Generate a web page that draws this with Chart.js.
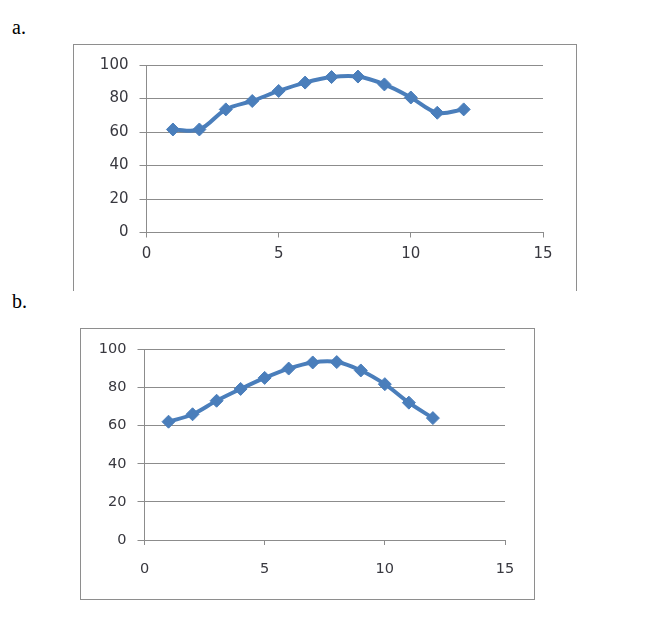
<!DOCTYPE html>
<html>
<head>
<meta charset="utf-8">
<script src="https://cdn.jsdelivr.net/npm/chart.js@4.4.1/dist/chart.umd.min.js"></script>
<style>
  body { margin: 0; background: #ffffff; width: 653px; height: 644px; position: relative; overflow: hidden; }
  .label { position: absolute; font-family: "Liberation Serif", "Times New Roman", serif; font-size: 20px; color: #000; }
  .frame { position: absolute; border: 1px solid #8e8e8e; box-sizing: border-box; }
  .box { position: absolute; }
</style>
</head>
<body>
<div class="label" style="left:12px; top:16px;">a.</div>
<div class="frame" style="left:73px; top:44px; width:504px; height:247px; border-bottom:none;"></div>
<div class="box" style="left:74px; top:45px; width:502px; height:245px;"><canvas id="chart_a"></canvas></div>

<div class="label" style="left:12px; top:290px;">b.</div>
<div class="frame" style="left:80px; top:328px; width:455px; height:272px;"></div>
<div class="box" style="left:81px; top:329px; width:453px; height:269px;"><canvas id="chart_b"></canvas></div>

<script>
// x positions shared by both charts
const xValues = [1, 2, 3, 4, 5, 6, 7, 8, 9, 10, 11, 12];
// chart a.
const seriesA = [61.5, 61.5, 73.5, 78.5, 84.5, 89.5, 92.8, 93.1, 88.4, 80.6, 71.5, 73.5];
// chart b.
const seriesB = [62.1, 66, 73.1, 79.3, 85.1, 90, 93.2, 93.4, 89, 81.8, 72.1, 64];

const lineBlue = '#4a7ebb';
const gridGrey = '#8c8c8c';
const tickColor = '#38383f';

function toPoints(ys) {
    return xValues.map(function(x, i) { return { x: x, y: ys[i] }; });
}

function makeOptions(cfg) {
    return {
        responsive: true,
        maintainAspectRatio: false,
        animation: false,
        layout: {
            padding: { left: 0, top: cfg.top, right: cfg.right, bottom: cfg.bottom }
        },
        scales: {
            x: {
                type: 'linear',
                min: 0,
                max: 15,
                ticks: {
                    stepSize: 5,
                    padding: cfg.xPad,
                    color: tickColor,
                    font: { family: 'DejaVu Sans', size: cfg.fontSize },
                    maxRotation: 0
                },
                grid: {
                    drawOnChartArea: false,
                    drawTicks: true,
                    tickLength: 5,
                    color: gridGrey,
                    lineWidth: 1
                },
                border: { display: true, color: gridGrey, width: 1 },
                afterFit: function(scale) { scale.height = cfg.xHeight; }
            },
            y: {
                min: 0,
                max: 100,
                ticks: {
                    stepSize: 20,
                    padding: cfg.yPad,
                    color: tickColor,
                    font: { family: 'DejaVu Sans', size: cfg.fontSize }
                },
                grid: {
                    display: true,
                    drawTicks: true,
                    tickLength: 7,
                    color: gridGrey,
                    lineWidth: 1
                },
                border: { display: true, color: gridGrey, width: 1 },
                afterFit: function(scale) { scale.width = cfg.yWidth; }
            }
        },
        plugins: {
            legend: { display: false },
            title: { display: false },
            tooltip: { enabled: false }
        }
    };
}

function makeDataset(ys) {
    return {
        label: 'Series1',
        data: toPoints(ys),
        showLine: true,
        borderColor: lineBlue,
        backgroundColor: lineBlue,
        borderWidth: 4,
        tension: 0.35,
        pointStyle: 'rectRot',
        pointRadius: 6.5,
        pointBorderWidth: 1,
        pointBackgroundColor: lineBlue,
        pointBorderColor: lineBlue
    };
}

const chart_a = new Chart(document.getElementById('chart_a'), {
    type: 'scatter',
    data: { datasets: [makeDataset(seriesA)] },
    options: makeOptions({ top: 19, right: 33, bottom: 27.5, xHeight: 30, xPad: 8, yPad: 11, yWidth: 72.5, fontSize: 15 })
});

const chart_b = new Chart(document.getElementById('chart_b'), {
    type: 'scatter',
    data: { datasets: [makeDataset(seriesB)] },
    options: makeOptions({ top: 20.5, right: 29, bottom: 23, xHeight: 35, xPad: 16, yPad: 11, yWidth: 63.5, fontSize: 14.5 })
});
</script>
</body>
</html>
